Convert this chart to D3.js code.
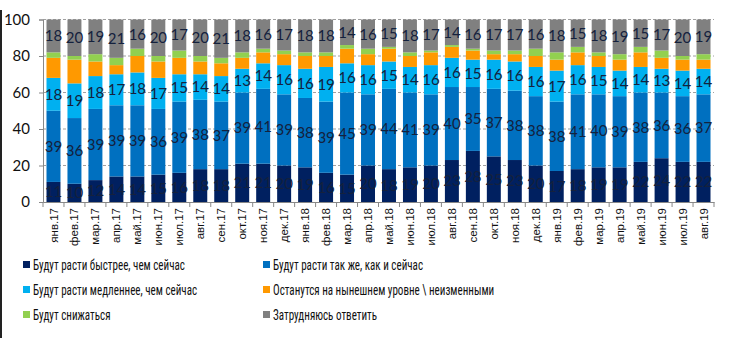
<!DOCTYPE html>
<html><head><meta charset="utf-8">
<script src="https://cdn.jsdelivr.net/npm/d3@7"></script>
<style>body{margin:0;background:#fff} svg{display:block}</style>
</head><body><svg id="c" width="730" height="338"></svg>
<script>
const months = ["янв.17","фев.17","мар.17","апр.17","май.17","июн.17","июл.17","авг.17","сен.17","окт.17","ноя.17","дек.17",
"янв.18","фев.18","мар.18","апр.18","май.18","июн.18","июл.18","авг.18","сен.18","окт.18","ноя.18","дек.18",
"янв.19","фев.19","мар.19","апр.19","май.19","июн.19","июл.19","авг.19"];
const faster  = [11,10,12,14,14,15,16,18,18,21,21,20,19,16,15,20,18,19,20,23,28,25,23,20,17,18,19,19,22,24,22,22];
const same    = [39,36,39,39,39,36,39,38,37,39,41,39,38,39,45,39,44,41,39,40,35,37,38,38,38,41,40,39,38,36,36,37];
const slower  = [18,19,18,17,18,17,15,14,14,13,14,16,16,19,16,16,15,14,16,16,15,16,16,16,17,16,15,14,14,13,14,14];
const remain  = [11,13,8,5,9,9,9,7,7,6,6,6,7,6,8,6,7,6,7,6,5,3,4,6,6,7,6,6,8,6,6,5];
const decline = [3,2,4,4,4,3,4,3,3,3,2,2,2,2,2,3,1,2,1,1,1,2,2,4,4,3,2,3,3,4,2,3];
const hard    = [18,20,19,21,16,20,17,20,21,18,16,17,18,18,14,16,15,18,17,14,16,17,17,16,18,15,18,19,15,17,20,19];
const yTicks = [0,20,40,60,80,100];

const seriesNames = ["Будут расти быстрее, чем сейчас","Будут расти так же, как и сейчас","Будут расти медленнее, чем сейчас",
"Останутся на нынешнем уровне \\ неизменными","Будут снижаться","Затрудняюсь ответить"];
const seriesData = [faster, same, slower, remain, decline, hard];
const colors = ["#002060","#0070C0","#00B0F0","#FF9900","#92D050","#808080"];
const showLabel = [true,true,true,false,false,true];

const svg = d3.select("#c");
const x0 = 43, x1 = 714, yTop = 19.5, yBot = 202;
const x = d3.scaleBand().domain(months).range([x0, x1]).paddingInner(1/3).paddingOuter(1/6);
const y = d3.scaleLinear().domain([0,100]).range([yBot, yTop]);

// frame line
svg.append("line").attr("x1",1).attr("x2",1).attr("y1",10).attr("y2",338).attr("stroke","#222").attr("stroke-width",2);

// grid
svg.append("g").selectAll("line").data(yTicks.filter(d=>d>0)).join("line")
  .attr("x1",x0).attr("x2",x1).attr("y1",d=>y(d)).attr("y2",d=>y(d))
  .attr("stroke","#a0a0a0").attr("stroke-dasharray","3,2").attr("stroke-width",1);

// stack
const rows = months.map((m,i)=>{const o={m}; seriesData.forEach((s,k)=>o["s"+k]=s[i]); return o;});
const stack = d3.stack().keys(seriesData.map((_,k)=>"s"+k))(rows);

const g = svg.append("g");
stack.forEach((layer,k)=>{
  g.append("g").selectAll("rect").data(layer).join("rect")
    .attr("x",d=>x(d.data.m)).attr("width",x.bandwidth())
    .attr("y",d=>y(d[1])).attr("height",d=>y(d[0])-y(d[1]))
    .attr("fill",colors[k]);
});
stack.forEach((layer,k)=>{
  if(!showLabel[k]) return;
  g.append("g").selectAll("text").data(layer).join("text")
    .attr("x",d=>x(d.data.m)+x.bandwidth()/2)
    .attr("y",d=>(y(d[0])+y(d[1]))/2)
    .attr("dy","0.36em").attr("text-anchor","middle")
    .attr("font-family","Lato, 'Open Sans', sans-serif").attr("font-size",15)
    .attr("fill","#14213d")
    .text(d=>d.data["s"+k]);
});

// y axis
const ya = svg.append("g").attr("transform",`translate(${x0},0)`)
  .call(d3.axisLeft(y).tickValues(yTicks).tickSize(4).tickPadding(9));
ya.select(".domain").attr("stroke","#888");
ya.selectAll(".tick line").attr("stroke","#888");
ya.selectAll("text").attr("font-family","Lato, 'Open Sans', sans-serif").attr("font-size",15).attr("fill","#111");

// x axis
const xa = svg.append("g").attr("transform",`translate(0,${yBot})`)
  .call(d3.axisBottom(x).tickSize(0).tickPadding(0));
xa.select(".domain").attr("stroke","#888");
xa.selectAll(".tick line").remove();
xa.selectAll("text").attr("transform","rotate(-90)").attr("text-anchor","end")
  .attr("x",-6).attr("y",0).attr("dy","0.35em")
  .attr("font-family","'Liberation Sans Narrow', 'Liberation Sans', Arial, sans-serif").attr("font-size",11.5).attr("fill","#111");
// boundary ticks
const bounds = months.map((m,i)=>x0 + i*x.step()).concat([x1]);
svg.append("g").selectAll("line").data(bounds).join("line")
  .attr("x1",d=>d).attr("x2",d=>d).attr("y1",yBot).attr("y2",yBot+5).attr("stroke","#888");

// legend
const legPos = [[23,265],[263,265],[23,290],[263,290],[23,315],[263,315]];
const lg = svg.append("g");
seriesNames.forEach((n,k)=>{
  const [lx,ly] = legPos[k];
  lg.append("rect").attr("x",lx).attr("y",ly-4).attr("width",7).attr("height",7).attr("fill",colors[k]);
  lg.append("text").attr("transform",`translate(${lx+10},${ly}) scale(0.79,1)`).attr("dy","0.35em")
    .attr("font-family","'Liberation Sans Narrow', 'Roboto Condensed', sans-serif").attr("font-size",14).attr("fill","#111")
    .text(n);
});
</script></body></html>
